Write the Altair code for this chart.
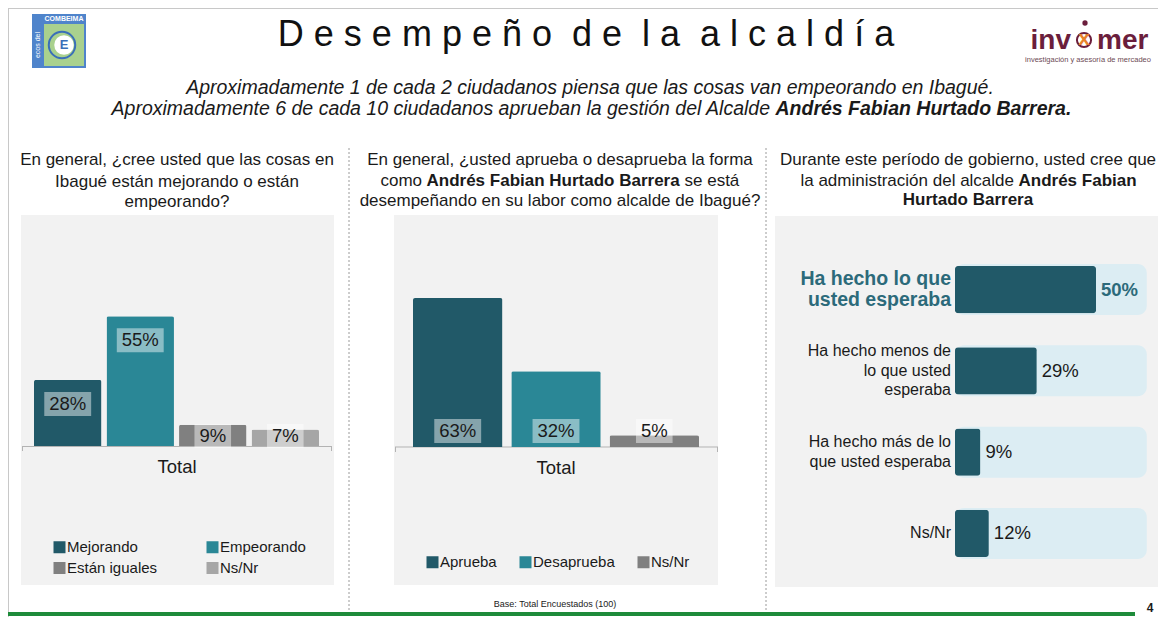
import altair as alt
import pandas as pd

# ---------------- data ----------------
TITLE_WORDS = ["Desempeño", "de", "la", "alcaldía"]
SUB1 = "Aproximadamente 1 de cada 2 ciudadanos piensa que las cosas van empeorando en Ibagué."
SUB2_A = "Aproximadamente 6 de cada 10 ciudadanos aprueban la gestión del Alcalde"
SUB2_B = "Andrés Fabian Hurtado Barrera."

Q1_LINES = ["En general, ¿cree usted que las cosas en", "Ibagué están mejorando o están", "empeorando?"]
Q2_L1 = "En general, ¿usted aprueba o desaprueba la forma"
Q2_L2 = ["como", "Andrés Fabian Hurtado Barrera", "se está"]
Q2_L3 = "desempeñando en su labor como alcalde de Ibagué?"
Q3_L1 = "Durante este período de gobierno, usted cree que"
Q3_L2 = ["la administración del alcalde", "Andrés Fabian"]
Q3_L3 = "Hurtado Barrera"

AXIS_LABEL = "Total"

p1_cats = ["Mejorando", "Empeorando", "Están iguales", "Ns/Nr"]
p1_vals = [28, 55, 9, 7]
p1_colors = ["#215968", "#2a8796", "#808080", "#a6a6a6"]

p2_cats = ["Aprueba", "Desaprueba", "Ns/Nr"]
p2_vals = [63, 32, 5]
p2_colors = ["#215968", "#2a8796", "#808080"]

p3_cats = ["Ha hecho lo que usted esperaba",
           "Ha hecho menos de lo que usted esperaba",
           "Ha hecho más de lo que usted esperaba",
           "Ns/Nr"]
p3_labels = ["Ha hecho lo que\nusted esperaba",
             "Ha hecho menos de\nlo que usted\nesperaba",
             "Ha hecho más de lo\nque usted esperaba",
             "Ns/Nr"]
p3_vals = [50, 29, 9, 12]

BASE_NOTE = "Base: Total Encuestados (100)"
PAGE_NO = "4"

# ---------------- helpers ----------------
W, H = 1150, 609
O = 8
FONT = "Liberation Sans"
DARK = "#1a1a1a"
one = pd.DataFrame({"k": [0]})


def T(s, x, y, size=17, weight="normal", align="center", color=DARK, style="normal",
      baseline="middle", angle=None, font=FONT):
    kw = dict(text=s, fontSize=size, fontWeight=weight, align=align, color=color,
              fontStyle=style, baseline=baseline, font=font)
    if angle is not None:
        kw["angle"] = angle
    return alt.Chart(one).mark_text(**kw).encode(x=alt.value(x - O), y=alt.value(y - O))


def R(x1, y1, x2, y2, color, **kw):
    return alt.Chart(one).mark_rect(color=color, **kw).encode(
        x=alt.value(x1 - O), x2=alt.value(x2 - O), y=alt.value(y1 - O), y2=alt.value(y2 - O))


def L(x1, y1, x2, y2, color, width=1, dash=None):
    kw = dict(color=color, strokeWidth=width)
    if dash:
        kw["strokeDash"] = dash
    return alt.Chart(one).mark_rule(**kw).encode(
        x=alt.value(x1 - O), x2=alt.value(x2 - O), y=alt.value(y1 - O), y2=alt.value(y2 - O))


def P(x, y, size, **kw):
    return alt.Chart(one).mark_point(size=size, **kw).encode(x=alt.value(x - O), y=alt.value(y - O))


layers = []

# ---------------- frame / header ----------------
layers.append(L(O + 0.5, O, O + 0.5, O + H, "#c8c8c8"))
layers.append(L(O, O + 0.5, O + W, O + 0.5, "#c8c8c8"))

# left logo
layers.append(R(32, 14, 86, 68, "#4f84cb"))
layers.append(R(44, 24, 84, 66, "#a9d18e"))
layers.append(T("COMBEIMA", 64, 19, size=7, color="white", weight="bold"))
layers.append(T("ecos del", 38, 45, size=7, color="white", angle=270))
layers.append(P(62, 45, 700, shape="circle", filled=False, color="#3a6fb8", strokeWidth=2, opacity=1))
layers.append(P(64, 45, 380, shape="circle", filled=True, color="white", strokeWidth=0, opacity=1))
layers.append(T("E", 64, 45, size=13, color="#3a6fb8", weight="bold"))

# title (letter spaced)
NB = "\u00a0"
title_txt = (NB * 2).join(NB.join(list(w)) for w in TITLE_WORDS)
layers.append(T(title_txt, 586, 46, size=36, baseline="alphabetic", color="#111111"))

# right logo
MAROON = "#6b1e3c"
layers.append(T("inv", 1071, 49, size=28, weight="bold", align="right", baseline="alphabetic", color=MAROON))
layers.append(T("mer", 1097, 49, size=28, weight="bold", align="left", baseline="alphabetic", color=MAROON))
layers.append(P(1084, 40, 200, shape="circle", filled=False, color=MAROON, strokeWidth=2, opacity=1))
layers.append(T("x", 1084, 39, size=21, weight="bold", color="#e8822a"))
layers.append(P(1085, 23, 28, shape="circle", filled=True, color=MAROON, opacity=1))
layers.append(T("investigación y asesoría de mercadeo", 1088, 60, size=7.5, color="#6d4a55"))

# subtitle
layers.append(T(SUB1, 590, 88, size=19.5, style="italic"))
layers.append(T(SUB2_A, 770, 109, size=19.5, style="italic", align="right"))
layers.append(T(SUB2_B, 775.5, 109, size=19.5, style="italic", weight="bold", align="left"))

# separators
layers.append(L(349, 148, 349, O + H - 3, "#9a9a9a", dash=[2, 2]))
layers.append(L(766, 148, 766, O + H - 3, "#9a9a9a", dash=[2, 2]))

# panel questions
for i, s in enumerate(Q1_LINES):
    layers.append(T(s, 177, [160, 182, 202][i]))
layers.append(T(Q2_L1, 560, 160))
layers.append(T(Q2_L2[0], 422, 181, align="right"))
layers.append(T(Q2_L2[1], 426.5, 181, align="left", weight="bold"))
layers.append(T(Q2_L2[2], 684.5, 181, align="left"))
layers.append(T(Q2_L3, 560, 201))
layers.append(T(Q3_L1, 968, 160))
layers.append(T(Q3_L2[0], 1014, 181, align="right"))
layers.append(T(Q3_L2[1], 1018.5, 181, align="left", weight="bold"))
layers.append(T(Q3_L3, 968, 200, weight="bold"))

# panel backgrounds
BG = "#f2f2f2"
layers.append(R(21, 215, 334, 585, BG))
layers.append(R(394, 215, 718, 585, BG))
layers.append(R(775, 216, 1162, 587, BG))

# baselines
AX = "#b3b3b3"
layers.append(L(22, 446.5, 332, 446.5, AX))
layers.append(L(22.5, 446, 22.5, 451, AX))
layers.append(L(331.5, 446, 331.5, 451, AX))
layers.append(L(395, 447, 718, 447, AX))
layers.append(L(395.5, 447, 395.5, 452, AX))
layers.append(L(717.5, 447, 717.5, 452, AX))
layers.append(T(AXIS_LABEL, 177, 467, size=18.5))
layers.append(T(AXIS_LABEL, 556, 468, size=18.5))

LABEL_SIZE = 18.5
BOX_W = "(10.3 * length(datum.val + '%') + 16)"
BOX_SHAPE = ("'M-1,' + (-24/%s) + 'L1,' + (-24/%s) + 'L1,' + (24/%s) + 'L-1,' + (24/%s) + 'Z'"
             % (BOX_W, BOX_W, BOX_W, BOX_W))


def legend(x, y, cols, colpad, rowpad=5):
    kw = dict(title=None, orient="none", legendX=x - O, legendY=y - O,
              direction="horizontal", symbolType="square",
              symbolSize=144, symbolStrokeWidth=0, labelFont=FONT,
              labelFontSize=15, labelColor=DARK, labelOffset=0,
              columnPadding=colpad, rowPadding=rowpad, padding=0, symbolOpacity=1,
              labelLimit=200)
    if cols:
        kw["columns"] = cols
    return alt.Legend(**kw)


# ---------------- panel 1 ----------------
df1 = pd.DataFrame({"cat": p1_cats, "val": p1_vals})
sx1 = alt.Scale(type="band", domain=p1_cats, range=[34 - O, 319 - O], paddingInner=0.07, paddingOuter=0)
sy1 = alt.Scale(domain=[0, 100], range=[446 - O, 446 - O - 236])
X1 = alt.X("cat:N", scale=sx1, axis=None, sort=p1_cats)

layers.append(alt.Chart(df1).mark_bar(cornerRadiusTopLeft=2, cornerRadiusTopRight=2).encode(
    x=X1,
    y=alt.Y("val:Q", scale=sy1, axis=None),
    color=alt.Color("cat:N", sort=p1_cats, scale=alt.Scale(domain=p1_cats, range=p1_colors),
                    legend=legend(52, 539.5, 2, 47))))

lab1 = alt.Chart(df1).transform_calculate(
    lbl="datum.val + '%'",
    yc="max(datum.val - 10.2, 4.2)",
    sz=BOX_W + "*" + BOX_W,
    shp=BOX_SHAPE,
)
layers.append(lab1.mark_point(filled=True, color="white", opacity=0.45, strokeWidth=0).encode(
    x=X1, y=alt.Y("yc:Q", scale=sy1, axis=None),
    size=alt.Size("sz:Q", scale=None, legend=None),
    shape=alt.Shape("shp:N", scale=None, legend=None)))
layers.append(lab1.mark_text(fontSize=LABEL_SIZE, font=FONT, color=DARK).encode(
    x=X1, y=alt.Y("yc:Q", scale=sy1, axis=None), text="lbl:N"))

# ---------------- panel 2 ----------------
df2 = pd.DataFrame({"cat": p2_cats, "val": p2_vals})
sx2 = alt.Scale(type="band", domain=p2_cats, range=[413 - O, 699 - O], paddingInner=0.09, paddingOuter=0)
sy2 = alt.Scale(domain=[0, 100], range=[447 - O, 447 - O - 236.5])
X2 = alt.X("cat:N", scale=sx2, axis=None, sort=p2_cats)

layers.append(alt.Chart(df2).mark_bar(cornerRadiusTopLeft=2, cornerRadiusTopRight=2).encode(
    x=X2,
    y=alt.Y("val:Q", scale=sy2, axis=None),
    color=alt.Color("cat:N", sort=p2_cats, scale=alt.Scale(domain=p2_cats, range=p2_colors),
                    legend=legend(425, 554.5, None, 21))))

lab2 = alt.Chart(df2).transform_calculate(
    lbl="datum.val + '%'",
    sz=BOX_W + "*" + BOX_W,
    shp=BOX_SHAPE,
)
layers.append(lab2.mark_point(filled=True, color="white", opacity=0.45, strokeWidth=0, yOffset=-16).encode(
    x=X2, y=alt.YDatum(0, scale=sy2, axis=None),
    size=alt.Size("sz:Q", scale=None, legend=None),
    shape=alt.Shape("shp:N", scale=None, legend=None)))
layers.append(lab2.mark_text(fontSize=LABEL_SIZE, font=FONT, color=DARK, yOffset=-16).encode(
    x=X2, y=alt.YDatum(0, scale=sy2, axis=None), text="lbl:N"))

# ---------------- panel 3 ----------------
df3 = pd.DataFrame({"cat": p3_cats, "lab": p3_labels, "val": p3_vals})
sx3 = alt.Scale(domain=[0, 100], range=[955 - O, 955 - O + 282])
sy3 = alt.Scale(type="band", domain=p3_cats, range=[266 - O, 557 - O], paddingInner=0.42, paddingOuter=0)
Y3 = alt.Y("cat:N", scale=sy3, axis=None, sort=p3_cats)
TEAL = "#2c6a7a"

layers.append(alt.Chart(df3).mark_bar(color="#dcedf3", size=51, cornerRadius=9).encode(
    y=Y3, x=alt.XDatum(0, scale=sx3, axis=None), x2=alt.X2Datum(68)))
layers.append(alt.Chart(df3).mark_bar(color="#215968", cornerRadius=3).encode(
    y=Y3, x=alt.X("val:Q", scale=sx3, axis=None)))

hi = alt.datum.cat == p3_cats[0]
lo = alt.datum.cat != p3_cats[0]
layers.append(alt.Chart(df3).transform_filter(hi).transform_calculate(lbl="datum.val + '%'").mark_text(
    align="left", dx=5, fontSize=18.5, fontWeight="bold", color=TEAL, font=FONT).encode(
    y=Y3, x=alt.X("val:Q", scale=sx3, axis=None), text="lbl:N"))
layers.append(alt.Chart(df3).transform_filter(lo).transform_calculate(lbl="datum.val + '%'").mark_text(
    align="left", dx=5, fontSize=18.5, color=DARK, font=FONT).encode(
    y=Y3, x=alt.X("val:Q", scale=sx3, axis=None), text="lbl:N"))

# category labels (multi-line, block centred on each bar)
HI_LH, LO_LH = 21, 19.5
nlines = "length(split(datum.lab, '\\n'))"
base3 = alt.Chart(df3).transform_calculate(n=nlines)
hi_n = p3_labels[0].count("\n") + 1
layers.append(base3.transform_filter(hi).mark_text(
    align="right", baseline="middle", lineBreak="\n", fontSize=19.5, fontWeight="bold",
    color=TEAL, lineHeight=HI_LH, font=FONT, dy=-(hi_n - 1) * HI_LH / 2).encode(
    x=alt.value(951 - O), y=Y3, text="lab:N"))
for n in sorted({lab.count("\n") + 1 for lab in p3_labels[1:]}):
    layers.append(base3.transform_filter(lo).transform_filter(alt.datum.n == n).mark_text(
        align="right", baseline="middle", lineBreak="\n", fontSize=16, color=DARK,
        lineHeight=LO_LH, font=FONT, dy=-(n - 1) * LO_LH / 2).encode(
        x=alt.value(951 - O), y=Y3, text="lab:N"))

# ---------------- footer ----------------
layers.append(T(BASE_NOTE, 555, 604, size=9, font="Liberation Sans Narrow, Liberation Sans"))
layers.append(R(O, O + H - 5, 1135, O + H - 1, "#1e8b3a"))
layers.append(T(PAGE_NO, 1150, O + H - 9, size=12, weight="bold"))

chart = alt.layer(*layers).properties(
    width=W, height=H, padding=0, background="white",
    autosize=alt.AutoSizeParams(type="none"),
).resolve_scale(
    x="independent", y="independent", color="independent", size="independent", shape="independent"
).configure_view(stroke=None)

chart.save("out.html", embed_options={"renderer": "svg", "actions": False})
